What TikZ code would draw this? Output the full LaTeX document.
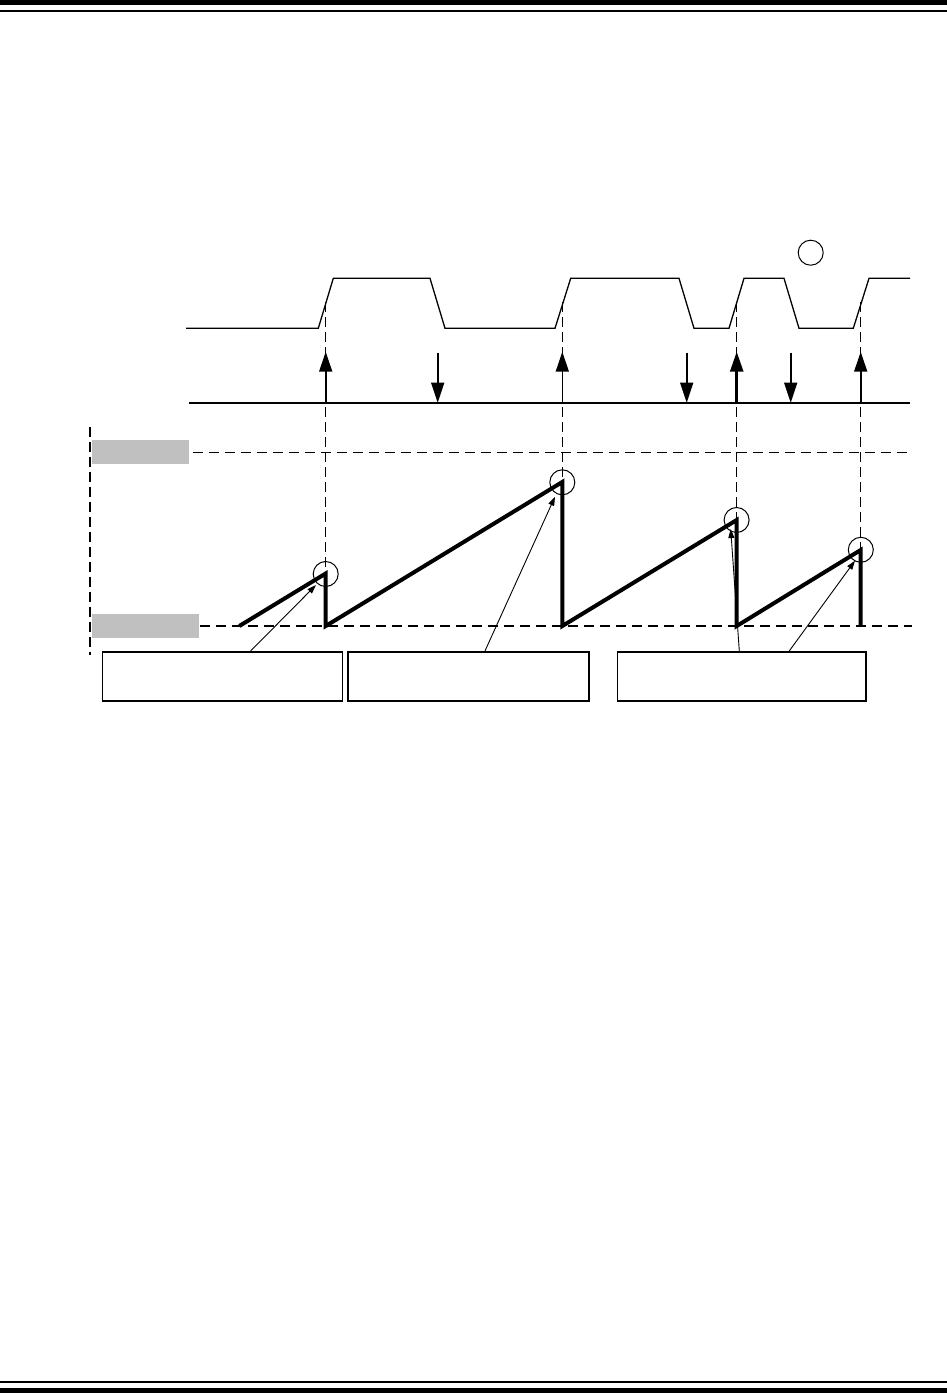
\documentclass[tikz,border=0pt]{standalone}
\usetikzlibrary{arrows.meta}
\definecolor{bargray}{RGB}{192,192,192}
\tikzset{
  rule/.style={fill=black, draw=none},
  wave/.style={line width=1.3pt, line join=miter},
  axisline/.style={line width=2pt},
  evarrow/.style={line width=1.6pt, -{Triangle[length=20pt,width=13pt]}},
  guide/.style={line width=1.2pt, dash pattern=on 10pt off 6pt},
  vguide/.style={line width=1.1pt, dash pattern=on 10pt off 5pt},
  saw/.style={line width=4pt, line join=miter},
  ring/.style={circle, draw, line width=1pt, minimum size=25pt, inner sep=0pt},
  graybar/.style={fill=bargray, draw=none, inner sep=0pt},
  callout/.style={draw, line width=1.6pt, inner sep=0pt},
  pointer/.style={line width=0.9pt, -{Triangle[length=9pt,width=6pt]}},
}
\begin{document}
\begin{tikzpicture}[x=1pt,y=-1pt]
\useasboundingbox (0,0) rectangle (947,1393);
% page rules
\fill[rule] (0,0) rectangle (947,4.5);
\fill[rule] (0,9.7) rectangle (947,11.7);
\fill[rule] (0,1381) rectangle (947,1383);
\fill[rule] (0,1387.7) rectangle (947,1393);

% clock waveform
\draw[wave] (186,328.3) -- (318.3,328.3) -- (333.3,278.3) -- (430,278.3) -- (445,328.3)
  -- (555,328.3) -- (570.7,278.3) -- (679,278.3) -- (694,328.3)
  -- (729,328.3) -- (744,278.3) -- (784,278.3) -- (799,328.3)
  -- (853.3,328.3) -- (869,278.3) -- (910,278.3);
\node[ring] (topring) at (810.7,252.7) {};

% time axis
\coordinate (axL) at (189,402.7);
\coordinate (axR) at (910,402.7);

% vertical guides
\foreach \n/\x in {a/325.7,b/562.3,c/736.7,d/860.7}{
  \coordinate (g\n top) at (\x,302);
  \coordinate (g\n bot) at (\x,626);
  \draw[vguide] (g\n top) -- (g\n bot);
}
\draw[vguide, line width=2pt] (90,426.7) -- (90,655);

% horizontal guides and level bars
\node[graybar, minimum width=97pt, minimum height=24.3pt] (vhigh) at (140.8,452.2) {};
\node[graybar, minimum width=106.7pt, minimum height=24.3pt] (vlow) at (145.65,626.2) {};
\coordinate (hiR) at (911.7,452.3);
\coordinate (loR) at (911.7,626);
\draw[guide] (193,452.3) -- (hiR);
\draw[guide] (200,626) -- (loR);

\draw[axisline] (axL) -- (axR);

% event arrows
\foreach \n/\x in {a/325.7,b/562.3,d/860.7}{
  \coordinate (up\n0) at (\x,402.7);
  \coordinate (up\n1) at (\x,351.7);
  \draw[evarrow] (up\n0) -- (up\n1);
}
\coordinate (upc0) at (736.7,402.7);
\coordinate (upc1) at (736.7,351.7);
\draw[evarrow, line width=2.6pt] (upc0) -- (upc1);
\foreach \n/\x in {a/437.7,b/686.7,c/790.7}{
  \coordinate (dn\n0) at (\x,352.7);
  \coordinate (dn\n1) at (\x,402.7);
  \draw[evarrow] (dn\n0) -- (dn\n1);
}

% sawtooth
\coordinate (s0) at (239.3,626);
\coordinate (p1) at (325.7,573.5);
\coordinate (b1) at (325.7,626);
\coordinate (p2) at (562.3,482);
\coordinate (b2) at (562.3,626);
\coordinate (p3) at (736.7,520);
\coordinate (b3) at (736.7,626);
\coordinate (p4) at (860.7,550);
\coordinate (b4) at (860.7,626);
\draw[saw] (s0) -- (p1) -- (b1) -- (p2) -- (b2) -- (p3) -- (b3) -- (p4) -- (b4);

\node[ring] (r1) at (325.7,574) {};
\node[ring] (r2) at (562.3,482.3) {};
\node[ring] (r3) at (736.6,520) {};
\node[ring] (r4) at (860.8,549.8) {};

% callout boxes
\node[callout, minimum width=240pt, minimum height=49.3pt] (box1) at (222.3,676.35) {};
\node[callout, minimum width=241.3pt, minimum height=49.3pt] (box2) at (468.35,676.35) {};
\node[callout, minimum width=248.7pt, minimum height=49.3pt] (box3) at (741.65,676.35) {};

% pointers
\coordinate (t1) at (316,585);
\coordinate (t2) at (555,496.7);
\coordinate (t3) at (730.7,529);
\coordinate (t4) at (855,560.7);
\draw[pointer] (box1.north -| 250.7,0) -- (t1);
\draw[pointer] (box2.north -| 485,0) -- (t2);
\draw[pointer] (box3.north -| 739.3,0) -- (t3);
\draw[pointer] (box3.north -| 789.3,0) -- (t4);
\end{tikzpicture}
\end{document}
